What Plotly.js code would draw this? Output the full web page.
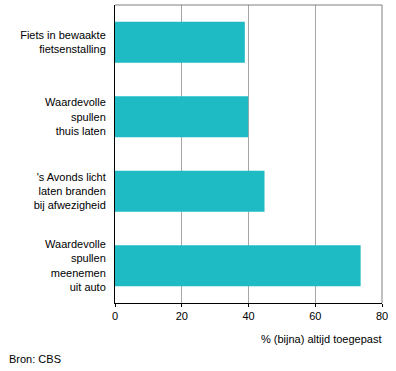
<!DOCTYPE html>
<html>
<head>
<meta charset="utf-8">
<script src="https://cdn.plot.ly/plotly-3.0.1.min.js"></script>
<style>html,body{margin:0;padding:0;background:#fff;}#chart{width:396px;height:371px;}</style>
</head>
<body>
<div id="chart"></div>
<script>
const categories = [
  "Fiets in bewaakte<br>fietsenstalling",
  "Waardevolle<br>spullen<br>thuis laten",
  "'s Avonds licht<br>laten branden<br>bij afwezigheid",
  "Waardevolle<br>spullen<br>meenemen<br>uit auto"
];
const values = [38.9, 39.9, 44.8, 73.6];
const xTicks = [0, 20, 40, 60, 80];
const xTitle = "% (bijna) altijd toegepast";
const source = "Bron: CBS";

const font = {family: "Liberation Sans, Arial, sans-serif", size: 11, color: "#000"};

Plotly.newPlot("chart", [{
  type: "bar",
  orientation: "h",
  y: categories,
  x: values,
  marker: {color: "#1ebbc5", line: {width: 0}},
  hoverinfo: "none"
}], {
  width: 396, height: 371,
  margin: {l: 115, r: 14, t: 5, b: 68, pad: 0},
  paper_bgcolor: "#fff", plot_bgcolor: "#fff",
  font: font,
  showlegend: false,
  bargap: 0.45,
  xaxis: {
    range: [0, 80], tickvals: xTicks, ticktext: xTicks.map(String),
    showgrid: true, gridcolor: "#a6a6a6", gridwidth: 1,
    zeroline: false, showline: true, linecolor: "#000", linewidth: 1,
    ticks: "outside", ticklen: 3, tickcolor: "#000", tickwidth: 1,
    fixedrange: true
  },
  yaxis: {
    autorange: "reversed", type: "category",
    showgrid: false, zeroline: false, showline: true, linecolor: "#000", linewidth: 1,
    ticks: "", ticklabelstandoff: 6, fixedrange: true
  },
  shapes: [
    {type: "line", xref: "paper", yref: "paper", x0: 0, x1: 1, y0: 1, y1: 1, line: {color: "#808080", width: 1}},
    {type: "line", xref: "paper", yref: "paper", x0: 1, x1: 1, y0: 0, y1: 1, line: {color: "#808080", width: 1}}
  ],
  annotations: [
    {text: xTitle, xref: "paper", yref: "paper", x: 1, y: 0, xanchor: "right", yanchor: "middle", yshift: -36, xshift: 1, showarrow: false, font: font},
    {text: source, xref: "paper", yref: "paper", x: 0, y: 0, xanchor: "left", yanchor: "middle", xshift: -108, yshift: -56, showarrow: false, font: font}
  ]
}, {displayModeBar: false, staticPlot: true});
</script>
</body>
</html>
